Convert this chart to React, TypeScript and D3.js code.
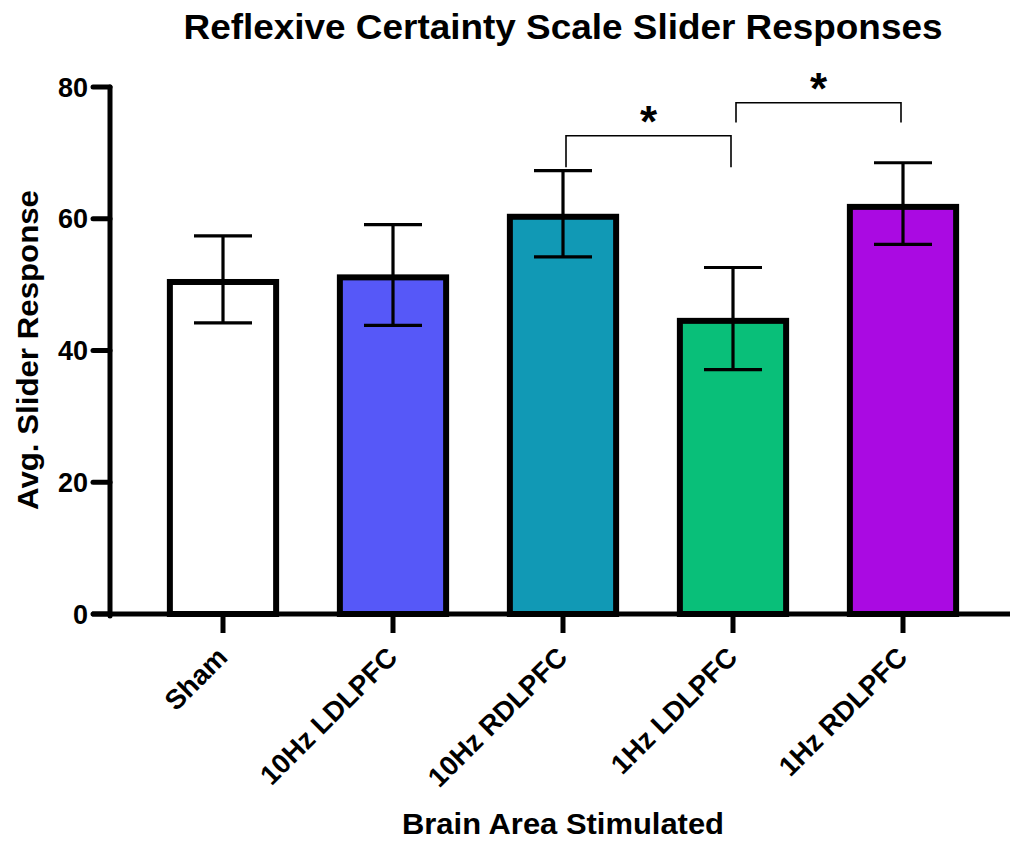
import React, { useEffect, useRef } from "react";
import * as d3 from "d3";

const categories = ["Sham", "10Hz LDLPFC", "10Hz RDLPFC", "1Hz LDLPFC", "1Hz RDLPFC"];
const means = [50.4, 51.1, 60.3, 44.5, 61.8];
const errHigh = [57.4, 59.1, 67.3, 52.6, 68.5];
const errLow = [44.2, 43.8, 54.2, 37.1, 56.1];
const colors = ["#ffffff", "#5658f8", "#1199b5", "#09bf79", "#aa0ae2"];
const yTicks = [0, 20, 40, 60, 80];

// significance brackets: from category, to category, bar level, drop level
const brackets = [
    { from: "10Hz RDLPFC", to: "1Hz LDLPFC", level: 72.6, drop: 67.8, label: "*" },
    { from: "1Hz LDLPFC", to: "1Hz RDLPFC", level: 77.6, drop: 74.6, label: "*" },
];

const FONT = "'Liberation Sans', Arial, Helvetica, sans-serif";

export default function App() {
    const ref = useRef<SVGSVGElement | null>(null);

    useEffect(() => {
        document.body.style.margin = "0";
        if (!ref.current) return;
        const svg = d3.select(ref.current);
        svg.selectAll("*").remove();

        const width = 1010;
        const axisX = 110;

        const x = d3.scaleBand<string>().domain(categories).range([138, 988]).padding(0);
        const y = d3.scaleLinear().domain([0, 80]).range([614, 87]);
        const barW = x.bandwidth() * 0.625;
        const cx = (c: string) => (x(c) as number) + x.bandwidth() / 2;

        // bars
        svg.append("g")
            .selectAll("rect")
            .data(categories)
            .join("rect")
            .attr("x", d => cx(d) - barW / 2)
            .attr("y", (d, i) => y(means[i]))
            .attr("width", barW)
            .attr("height", (d, i) => y(0) - y(means[i]))
            .attr("fill", (d, i) => colors[i])
            .attr("stroke", "#000")
            .attr("stroke-width", 6);

        // error bars
        const eb = svg.append("g").attr("stroke", "#000").attr("stroke-width", 3.2);
        categories.forEach((c, i) => {
            const xc = cx(c);
            eb.append("line").attr("x1", xc).attr("x2", xc).attr("y1", y(errLow[i])).attr("y2", y(errHigh[i]));
            eb.append("line").attr("x1", xc - 29).attr("x2", xc + 29).attr("y1", y(errHigh[i])).attr("y2", y(errHigh[i]));
            eb.append("line").attr("x1", xc - 29).attr("x2", xc + 29).attr("y1", y(errLow[i])).attr("y2", y(errLow[i]));
        });

        // x axis
        svg.append("line")
            .attr("x1", 92).attr("x2", width)
            .attr("y1", y(0)).attr("y2", y(0))
            .attr("stroke", "#000").attr("stroke-width", 5);
        svg.append("g")
            .selectAll("line")
            .data(categories)
            .join("line")
            .attr("x1", d => cx(d)).attr("x2", d => cx(d))
            .attr("y1", y(0)).attr("y2", y(0) + 19)
            .attr("stroke", "#000").attr("stroke-width", 5);
        svg.append("g")
            .selectAll("text")
            .data(categories)
            .join("text")
            .attr("transform", d => `translate(${cx(d) - 8},${645}) rotate(-45)`)
            .attr("dy", "0.72em")
            .attr("text-anchor", "end")
            .attr("font-family", FONT)
            .attr("font-weight", "bold")
            .attr("font-size", 27.5)
            .text(d => d);

        // y axis
        svg.append("line")
            .attr("x1", axisX).attr("x2", axisX)
            .attr("y1", y(80)).attr("y2", y(0) + 2)
            .attr("stroke", "#000").attr("stroke-width", 5)
            .attr("stroke-linecap", "round");
        const yt = svg.append("g");
        yt.selectAll("line")
            .data(yTicks)
            .join("line")
            .attr("x1", 93).attr("x2", axisX)
            .attr("y1", d => y(d)).attr("y2", d => y(d))
            .attr("stroke", "#000").attr("stroke-width", 5)
            .attr("stroke-linecap", "round");
        yt.selectAll("text")
            .data(yTicks)
            .join("text")
            .attr("x", 88)
            .attr("y", d => y(d))
            .attr("dy", "0.36em")
            .attr("text-anchor", "end")
            .attr("font-family", FONT)
            .attr("font-weight", "bold")
            .attr("font-size", 27)
            .text(d => d);

        // brackets
        const bg = svg.append("g");
        brackets.forEach(b => {
            const x1 = cx(b.from) + 3;
            const x2 = cx(b.to) - 2;
            bg.append("path")
                .attr("d", `M${x1},${y(b.drop)}V${y(b.level)}H${x2}V${y(b.drop)}`)
                .attr("fill", "none")
                .attr("stroke", "#000")
                .attr("stroke-width", 1.6);
            bg.append("text")
                .attr("x", (x1 + x2) / 2)
                .attr("y", y(b.level) + 1)
                .attr("text-anchor", "middle")
                .attr("font-family", FONT)
                .attr("font-weight", "bold")
                .attr("font-size", 44)
                .text(b.label);
        });

        // titles
        svg.append("text")
            .attr("x", 563).attr("y", 39)
            .attr("text-anchor", "middle")
            .attr("font-family", FONT)
            .attr("font-weight", "bold")
            .attr("font-size", 35)
            .attr("textLength", 759)
            .attr("lengthAdjust", "spacingAndGlyphs")
            .text("Reflexive Certainty Scale Slider Responses");
        svg.append("text")
            .attr("x", 563).attr("y", 834)
            .attr("text-anchor", "middle")
            .attr("font-family", FONT)
            .attr("font-weight", "bold")
            .attr("font-size", 30)
            .attr("textLength", 322)
            .attr("lengthAdjust", "spacingAndGlyphs")
            .text("Brain Area Stimulated");
        svg.append("text")
            .attr("transform", `translate(38,350) rotate(-90)`)
            .attr("text-anchor", "middle")
            .attr("font-family", FONT)
            .attr("font-weight", "bold")
            .attr("font-size", 30)
            .attr("textLength", 320)
            .attr("lengthAdjust", "spacingAndGlyphs")
            .text("Avg. Slider Response");
    }, []);

    return <svg ref={ref} width={1010} height={841} style={{ display: "block", background: "#fff" }}></svg>;
}
